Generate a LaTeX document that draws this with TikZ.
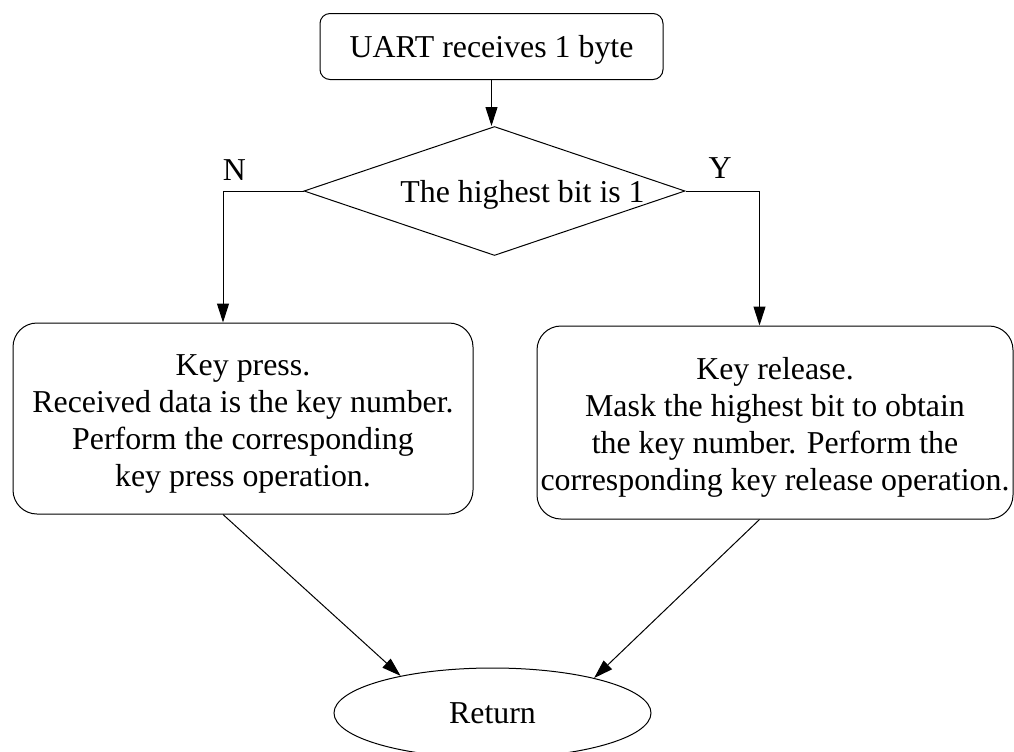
\documentclass[tikz,border=0pt]{standalone}
\usepackage{fontspec}
\setmainfont{Liberation Serif}
\usetikzlibrary{shapes.geometric,arrows.meta}
\begin{document}
\begin{tikzpicture}[x=0.75pt,y=-0.75pt,
  every node/.style={font=\fontsize{23.9}{27.75}\selectfont, inner sep=0pt},
  flowline/.style={draw=black, line width=0.75pt},
  arrowline/.style={flowline, -{Triangle[length=14.25pt,width=9pt]}},
  startbox/.style={draw, line width=0.75pt, rounded corners=7.5pt,
    minimum width=257.25pt, minimum height=49.5pt, text depth=0pt},
  procbox/.style={draw, line width=0.75pt, rounded corners=18pt, align=center},
  decision/.style={draw, line width=0.75pt, diamond,
    minimum width=285.75pt, minimum height=96.75pt},
  terminal/.style={draw, line width=0.75pt, ellipse,
    minimum width=237.75pt, minimum height=67.5pt, text depth=0pt},
]
\useasboundingbox (0,0) rectangle (1014,751);

% blocks
\node[startbox] (start) at (491.5,46.5) {UART receives 1 byte};
\node[decision] (test) at (494.5,191) {};
\node[text depth=0pt] (testlabel) at (522.5,191) {The highest bit is 1};
% a strut on the first line sets the text block a little below the box centre
\node[procbox, minimum width=345pt, minimum height=143.25pt] (press) at (243,418.5)
  {\rule{0pt}{23.2pt}Key press.\\Received data is the key number.\\Perform the corresponding\\key press operation.};
\node[procbox, minimum width=357pt, minimum height=144.75pt] (release) at (775,422.5)
  {\rule{0pt}{24pt}Key release.\\Mask the highest bit to obtain\\the key number. Perform the\\corresponding key release operation.};
\node[terminal] (ret) at (492.5,713) {Return};

% branch labels
\node[anchor=base] (nlabel) at (234.5,180) {N};
\node[anchor=base] (ylabel) at (720,178) {Y};

% connectors
\coordinate (nbend) at (223,191);
\coordinate (ybend) at (759.5,191);
\draw[arrowline] (start.south) -- (start.south |- test.north);
\draw[arrowline] (test.west) -- (nbend) -- (nbend |- press.north);
\draw[arrowline] (test.east) -- (ybend) -- (ybend |- release.north);
\draw[arrowline] (press.south -| nbend) -- (ret.158);
\draw[arrowline] (release.south -| ybend) -- (ret.19);
\end{tikzpicture}
\end{document}
